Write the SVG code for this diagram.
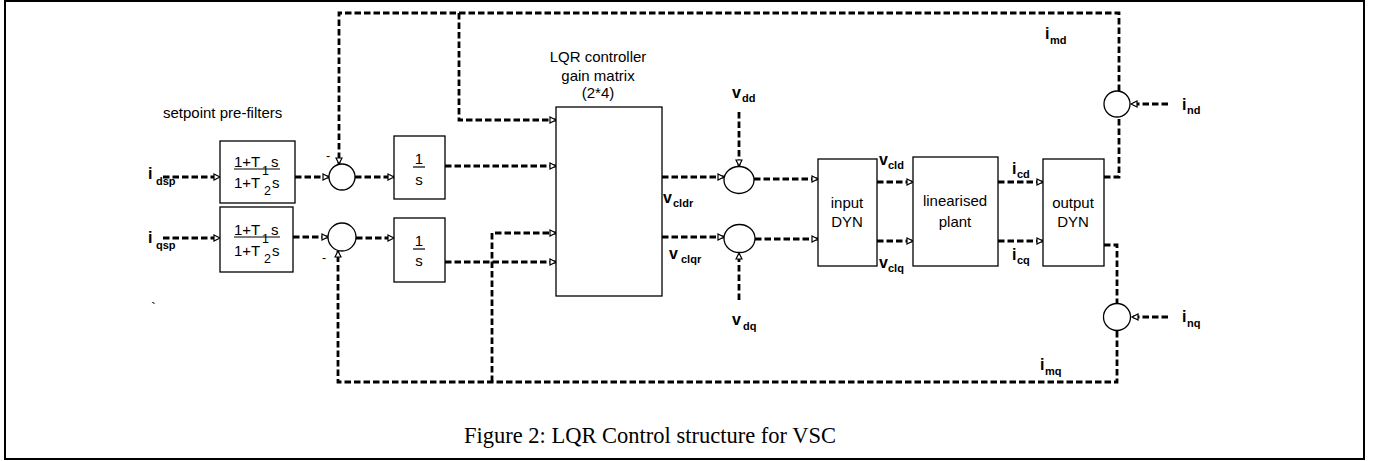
<svg xmlns="http://www.w3.org/2000/svg" width="1378" height="461" viewBox="0 0 1378 461">
<style>
.frame{fill:#fff;stroke:#000;stroke-width:2}
.box{fill:#fff;stroke:#000;stroke-width:1.3}
.sum{fill:#fff;stroke:#000;stroke-width:1.3}
.dash{fill:none;stroke:#000;stroke-width:2.8;stroke-dasharray:6.5 3}
.arr{marker-end:url(#ah)}
.t{font-family:"Liberation Sans",Arial,sans-serif;font-size:15px;fill:#000}
.m{text-anchor:middle}
.b{font-family:"Liberation Sans",Arial,sans-serif;font-weight:bold;font-size:16px;fill:#000}
.s{font-size:11px}
.frac{font-family:"Liberation Sans",Arial,sans-serif;font-size:15px;fill:#000}
.fs{font-size:12.5px}
.ul{stroke:#000;stroke-width:1.2}
.cap{font-family:"Liberation Serif","Times New Roman",serif;font-size:22.5px;fill:#000;text-anchor:middle}
</style>
<defs>
<marker id="ah" markerUnits="userSpaceOnUse" markerWidth="10" markerHeight="10" refX="7" refY="4" orient="auto">
<path d="M1,1 L7,4 L1,7 z" fill="#fff" stroke="#000" stroke-width="1.2" stroke-dasharray="none"/>
</marker>
</defs>
<rect class="frame" x="5" y="1" width="1359" height="458"/>

<g id="connectors">
<path class="dash arr" d="M163,177 H220"/>
<path class="dash arr" d="M163,238 H220"/>
<path class="dash arr" d="M295,177 H329"/>
<path class="dash arr" d="M293,237 H328"/>
<path class="dash arr" d="M355,177 H394"/>
<path class="dash arr" d="M356,238 H394"/>
<path class="dash arr" d="M445,166 H556"/>
<path class="dash arr" d="M445,262 H556"/>
<path class="dash arr" d="M459,13 V120 H556"/>
<path class="dash arr" d="M492,382 V233 H556"/>
<path class="dash arr" d="M662,177 H724"/>
<path class="dash arr" d="M662,237 H724"/>
<path class="dash arr" d="M739,112 V166"/>
<path class="dash arr" d="M739,300 V253"/>
<path class="dash arr" d="M754,179 H818"/>
<path class="dash arr" d="M755,239 H818"/>
<path class="dash arr" d="M877,182 H913"/>
<path class="dash arr" d="M877,241 H913"/>
<path class="dash arr" d="M998,182 H1043"/>
<path class="dash arr" d="M998,241 H1043"/>
<path class="dash" d="M1104,177 H1119 V117"/>
<path class="dash arr" d="M1119,91 V13 H339 V164"/>
<path class="dash arr" d="M1168,104 H1131"/>
<path class="dash" d="M1104,245 H1117 V303"/>
<path class="dash arr" d="M1117,331 V382 H338 V251"/>
<path class="dash arr" d="M1168,317 H1132"/>
</g>

<g id="prefilter-d">
<rect class="box" x="220" y="141" width="75" height="62"/>
<text class="frac" x="234" y="167">1+T</text>
<text class="frac fs" x="262" y="175">1</text>
<text class="frac" x="271" y="167">s</text>
<line class="ul" x1="234" y1="169" x2="280" y2="169"/>
<text class="frac" x="234" y="188">1+T</text>
<text class="frac fs" x="264" y="195">2</text>
<text class="frac" x="272" y="188">s</text>
</g>
<g id="prefilter-q">
<rect class="box" x="220" y="207" width="73" height="65"/>
<text class="frac" x="234" y="235">1+T</text>
<text class="frac fs" x="262" y="243">1</text>
<text class="frac" x="271" y="235">s</text>
<line class="ul" x1="234" y1="237" x2="280" y2="237"/>
<text class="frac" x="234" y="256">1+T</text>
<text class="frac fs" x="264" y="263">2</text>
<text class="frac" x="272" y="256">s</text>
</g>
<g id="sum-d">
<circle class="sum" cx="342" cy="177" r="13"/>
<text class="t fs" x="326" y="160">-</text>
</g>
<g id="sum-q">
<circle class="sum" cx="342" cy="237" r="14"/>
<text class="t fs" x="322" y="262">-</text>
</g>
<g id="int-d">
<rect class="box" x="394" y="136" width="51" height="63"/>
<text class="t m" x="419" y="164">1</text>
<line class="ul" x1="413" y1="167" x2="425" y2="167"/>
<text class="t m" x="419" y="185">s</text>
</g>
<g id="int-q">
<rect class="box" x="394" y="218" width="51" height="64"/>
<text class="t m" x="419" y="246">1</text>
<line class="ul" x1="413" y1="249" x2="425" y2="249"/>
<text class="t m" x="419" y="266">s</text>
</g>
<g id="lqr">
<text class="t m" x="598" y="62">LQR controller</text>
<text class="t m" x="598" y="81">gain matrix</text>
<text class="t m" x="598" y="98">(2*4)</text>
<rect class="box" x="556" y="107" width="106" height="189"/>
</g>
<g id="sum-vd">
<ellipse class="sum" cx="739" cy="180" rx="15" ry="13.5"/>
</g>
<g id="sum-vq">
<ellipse class="sum" cx="739.5" cy="238.5" rx="15.5" ry="14"/>
</g>
<g id="input-dyn">
<rect class="box" x="818" y="159" width="59" height="107"/>
<text class="t m" x="847" y="208">input</text>
<text class="t m" x="847" y="227">DYN</text>
</g>
<g id="plant">
<rect class="box" x="913" y="157" width="85" height="109"/>
<text class="t m" x="955" y="206">linearised</text>
<text class="t m" x="955" y="227">plant</text>
</g>
<g id="output-dyn">
<rect class="box" x="1043" y="159" width="61" height="107"/>
<text class="t m" x="1073" y="208">output</text>
<text class="t m" x="1073" y="227">DYN</text>
</g>
<g id="sum-nd">
<circle class="sum" cx="1117" cy="104" r="13"/>
</g>
<g id="sum-nq">
<circle class="sum" cx="1117" cy="317" r="13.5"/>
</g>

<g id="labels">
<text class="t" x="163" y="118">setpoint pre-filters</text>
<text class="b" x="148" y="179">i<tspan class="s" x="156" y="185">dsp</tspan></text>
<text class="b" x="148" y="243">i<tspan class="s" x="156" y="249">qsp</tspan></text>
<text class="b" x="663" y="203">v<tspan class="s" x="673" y="207">cldr</tspan></text>
<text class="b" x="669" y="259">v<tspan class="s" x="681" y="263">clqr</tspan></text>
<text class="b" x="732" y="98">v<tspan class="s" x="742" y="102">dd</tspan></text>
<text class="b" x="732" y="325">v<tspan class="s" x="743" y="330">dq</tspan></text>
<text class="b" x="879" y="165">v<tspan class="s" x="888" y="169">cld</tspan></text>
<text class="b" x="879" y="268">v<tspan class="s" x="888" y="272">clq</tspan></text>
<text class="b" x="1012" y="174">i<tspan class="s" x="1017" y="178">cd</tspan></text>
<text class="b" x="1012" y="260">i<tspan class="s" x="1017" y="264">cq</tspan></text>
<text class="b" x="1045" y="39">i<tspan class="s" x="1050" y="44">md</tspan></text>
<text class="b" x="1040" y="370">i<tspan class="s" x="1045" y="375">mq</tspan></text>
<text class="b" x="1182" y="110">i<tspan class="s" x="1187" y="114">nd</tspan></text>
<text class="b" x="1182" y="322">i<tspan class="s" x="1187" y="327">nq</tspan></text>
<text class="t" x="151" y="313">`</text>
</g>
<text class="cap" x="650" y="443">Figure 2: LQR Control structure for VSC</text>
</svg>
